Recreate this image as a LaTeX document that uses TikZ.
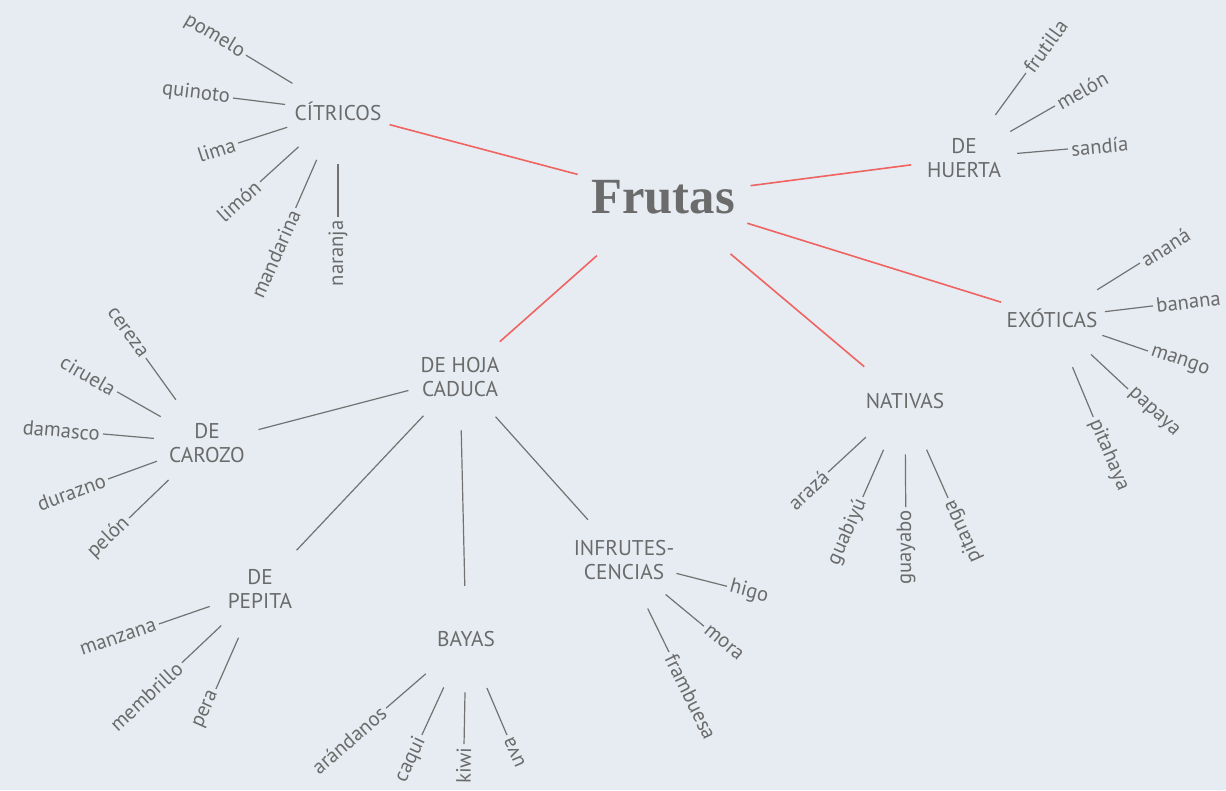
\documentclass[tikz,border=0pt]{standalone}
\usepackage{fontspec}
\setmainfont{PT Sans}
\newfontfamily\titlefont{Liberation Serif}
\usepackage{tikz}

\definecolor{bgcol}{HTML}{E6ECF2}
\definecolor{inkgray}{HTML}{6B6B6B}
\definecolor{linegray}{HTML}{727272}
\definecolor{branchred}{HTML}{EF6461}

\begin{document}
\begin{tikzpicture}[x=0.75pt, y=-0.75pt,
    hub/.style={circle, minimum size=132pt, inner sep=0pt, text=inkgray, font=\titlefont\bfseries\fontsize{38}{40}\selectfont},
    topic/.style={circle, minimum size=79.5pt, inner sep=0pt, align=center, text=inkgray, font=\fontsize{16}{17.5}\selectfont},
    fruit/.style={inner sep=1pt, outer sep=1.5pt, text=inkgray, font=\fontsize{15.5}{16}\selectfont},
    branch/.style={draw=branchred, line width=1.2pt},
    twig/.style={draw=linegray, line width=0.9pt}]

    % Background
    \useasboundingbox (0,0) rectangle (1226,790);
    \fill[bgcol] (0,0) rectangle (1226,790);

    % Center
    \node[hub] (frutas) at (663,197) {Frutas};

    % Main groups
    \node[topic] (citricos) at (338,111) {CÍTRICOS};
    \node[topic] (huerta) at (964,158) {DE\\HUERTA};
    \node[topic] (exoticas) at (1052,318) {EXÓTICAS};
    \node[topic] (nativas) at (905,401) {NATIVAS};
    \node[topic] (hoja) at (460,377) {DE HOJA\\CADUCA};
    \draw[branch] (frutas) -- (citricos);
    \draw[branch] (frutas) -- (huerta);
    \draw[branch] (frutas) -- (exoticas);
    \draw[branch] (frutas) -- (nativas);
    \draw[branch] (frutas) -- (hoja);

    % De hoja caduca
    \node[topic] (carozo) at (207,443) {DE\\CAROZO};
    \node[topic] (pepita) at (260,589) {DE\\PEPITA};
    \node[topic] (bayas) at (466,639) {BAYAS};
    \node[topic] (infrut) at (624,560) {INFRUTES-\\CENCIAS};
    \draw[twig] (hoja) -- (carozo);
    \draw[twig] (hoja) -- (pepita);
    \draw[twig] (hoja) -- (bayas);
    \draw[twig] (hoja) -- (infrut);

    % Citricos
    \node[fruit, anchor=east, rotate=-31] (pomelo) at (246,55) {pomelo};
    \node[fruit, anchor=east, rotate=-7] (quinoto) at (233,98) {quinoto};
    \node[fruit, anchor=east, rotate=18] (lima) at (238,143) {lima};
    \node[fruit, anchor=east, rotate=42] (limon) at (260,182) {limón};
    \node[fruit, anchor=east, rotate=66] (mandarina) at (296,208) {mandarina};
    \node[fruit, anchor=east, rotate=90] (naranja) at (338,217) {naranja};
    \draw[twig] (citricos) -- (pomelo);
    \draw[twig] (citricos) -- (quinoto);
    \draw[twig] (citricos) -- (lima);
    \draw[twig] (citricos) -- (limon);
    \draw[twig] (citricos) -- (mandarina);
    \draw[twig] (citricos) -- (naranja);

    % De huerta
    \node[fruit, anchor=west, rotate=54] (frutilla) at (1026,73) {frutilla};
    \node[fruit, anchor=west, rotate=30] (melon) at (1055,106) {melón};
    \node[fruit, anchor=west, rotate=5] (sandia) at (1068,149) {sandía};
    \draw[twig] (huerta) -- (frutilla);
    \draw[twig] (huerta) -- (melon);
    \draw[twig] (huerta) -- (sandia);

    % Exoticas
    \node[fruit, anchor=west, rotate=32] (anana) at (1140,263) {ananá};
    \node[fruit, anchor=west, rotate=7] (banana) at (1153,306) {banana};
    \node[fruit, anchor=west, rotate=-19] (mango) at (1148,351) {mango};
    \node[fruit, anchor=west, rotate=-43] (papaya) at (1128,389) {papaya};
    \node[fruit, anchor=west, rotate=-67] (pitahaya) at (1093,417) {pitahaya};
    \draw[twig] (exoticas) -- (anana);
    \draw[twig] (exoticas) -- (banana);
    \draw[twig] (exoticas) -- (mango);
    \draw[twig] (exoticas) -- (papaya);
    \draw[twig] (exoticas) -- (pitahaya);

    % Nativas
    \node[fruit, anchor=east, rotate=43] (araza) at (828,472) {arazá};
    \node[fruit, anchor=east, rotate=66] (guabiyu) at (863,497) {guabiyú};
    \node[fruit, anchor=east, rotate=90] (guayabo) at (906,507) {guayabo};
    \node[fruit, anchor=east, rotate=114] (pitanga) at (948,498) {pitanga};
    \draw[twig] (nativas) -- (araza);
    \draw[twig] (nativas) -- (guabiyu);
    \draw[twig] (nativas) -- (guayabo);
    \draw[twig] (nativas) -- (pitanga);

    % De carozo
    \node[fruit, anchor=east, rotate=-54] (cereza) at (146,358) {cereza};
    \node[fruit, anchor=east, rotate=-30] (ciruela) at (117,392) {ciruela};
    \node[fruit, anchor=east, rotate=-5] (damasco) at (103,434) {damasco};
    \node[fruit, anchor=east, rotate=20] (durazno) at (108,479) {durazno};
    \node[fruit, anchor=east, rotate=44] (pelon) at (129,518) {pelón};
    \draw[twig] (carozo) -- (cereza);
    \draw[twig] (carozo) -- (ciruela);
    \draw[twig] (carozo) -- (damasco);
    \draw[twig] (carozo) -- (durazno);
    \draw[twig] (carozo) -- (pelon);

    % De pepita
    \node[fruit, anchor=east, rotate=19] (manzana) at (159,624) {manzana};
    \node[fruit, anchor=east, rotate=43] (membrillo) at (182,663) {membrillo};
    \node[fruit, anchor=east, rotate=66] (pera) at (216,689) {pera};
    \draw[twig] (pepita) -- (manzana);
    \draw[twig] (pepita) -- (membrillo);
    \draw[twig] (pepita) -- (pera);

    % Bayas
    \node[fruit, anchor=east, rotate=41] (arandanos) at (386,708) {arándanos};
    \node[fruit, anchor=east, rotate=65] (caqui) at (422,735) {caqui};
    \node[fruit, anchor=east, rotate=89] (kiwi) at (464,744) {kiwi};
    \node[fruit, anchor=east, rotate=113] (uva) at (507,735) {uva};
    \draw[twig] (bayas) -- (arandanos);
    \draw[twig] (bayas) -- (caqui);
    \draw[twig] (bayas) -- (kiwi);
    \draw[twig] (bayas) -- (uva);

    % Infrutescencias
    \node[fruit, anchor=west, rotate=-15] (higo) at (727,586) {higo};
    \node[fruit, anchor=west, rotate=-40] (mora) at (704,626) {mora};
    \node[fruit, anchor=west, rotate=-64] (frambuesa) at (669,652) {frambuesa};
    \draw[twig] (infrut) -- (higo);
    \draw[twig] (infrut) -- (mora);
    \draw[twig] (infrut) -- (frambuesa);
\end{tikzpicture}
\end{document}
